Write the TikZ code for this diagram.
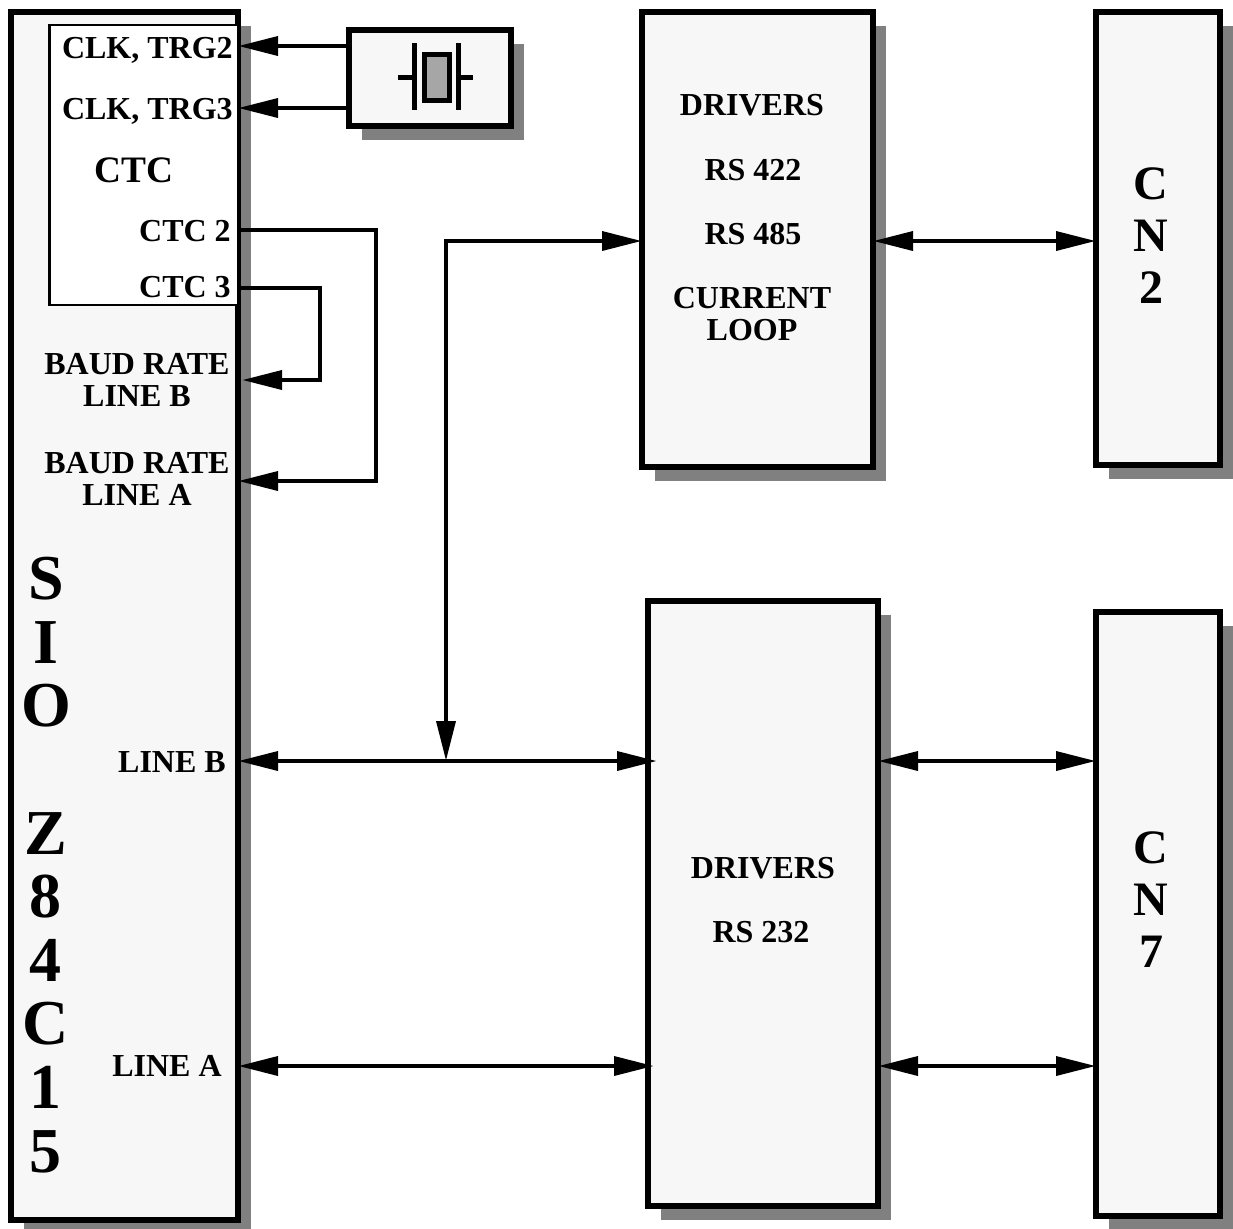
\documentclass[tikz,border=0pt]{standalone}
\usepackage{fontspec}
\setmainfont{Liberation Serif}
\usetikzlibrary{arrows.meta,shadows}

\definecolor{boxfill}{HTML}{F7F7F7}
\definecolor{shadowgray}{HTML}{808080}
\definecolor{quartzgray}{HTML}{A6A6A6}

\tikzset{
    blockbox/.style={draw, line width=4pt, fill=boxfill, inner sep=0pt, outer sep=0pt, drop shadow={shadow xshift=10pt, shadow yshift=-10.5pt, fill=shadowgray, opacity=1}},
    wire/.style={line width=3.4pt, line join=miter},
    tipped/.style={wire, -{Triangle[length=30pt,width=14pt]}},
    twotipped/.style={wire, {Triangle[length=30pt,width=14pt]}-{Triangle[length=30pt,width=14pt]}},
    lbl/.style={font=\fontsize{24}{24}\selectfont\bfseries, align=center, inner sep=0pt},
    ctclbl/.style={font=\fontsize{28}{28}\selectfont\bfseries, inner sep=0pt},
    cnlbl/.style={font=\fontsize{36}{39}\selectfont\bfseries, align=center, inner sep=0pt},
    siolbl/.style={font=\fontsize{48}{47.7}\selectfont\bfseries, align=center, inner sep=0pt}
}

\begin{document}
\begin{tikzpicture}[x=0.75pt, y=-0.75pt]
\useasboundingbox (0,0) rectangle (1233,1229);
\clip (0,0) rectangle (1233,1229);

% blocks
\node[blockbox, minimum width=170.25pt, minimum height=906pt] (sio) at (124.5,616) {};
\node[blockbox, minimum width=121.5pt, minimum height=72pt] (xtal) at (430,78) {};
\node[blockbox, minimum width=173.25pt, minimum height=341.25pt] (rsfour) at (757.5,239.5) {};
\node[blockbox, minimum width=93pt, minimum height=339.75pt] (cntwo) at (1158,238.5) {};
\node[blockbox, minimum width=172.5pt, minimum height=453.75pt] (rstwo) at (763,903.5) {};
\node[blockbox, minimum width=93pt, minimum height=453pt] (cnseven) at (1158,914) {};
\node[draw, line width=2.2pt, fill=white, inner sep=0pt, outer sep=0pt, minimum width=142pt, minimum height=210pt] (ctc) at (144,165) {};

% crystal symbol
\draw[line width=3.75pt, fill=quartzgray] (424,54) rectangle (449,100);
\draw[line width=3.75pt] (414,43) -- (414,110) (398,77) -- (414,77);
\draw[line width=3.75pt] (458,43) -- (458,110) (458,77) -- (473,77);

% texts
\node[lbl, anchor=east] (clktwo) at (233,50) {CLK, TRG2};
\node[lbl, anchor=east] (clkthree) at (233,111) {CLK, TRG3};
\node[ctclbl] (ctcname) at (134,170) {CTC};
\node[lbl, anchor=east] (ctctwo) at (231,231) {CTC 2};
\node[lbl, anchor=east] (ctcthree) at (231,287) {CTC 3};
\node[lbl] (baudb) at (137,380) {BAUD RATE\\LINE B};
\node[lbl] (bauda) at (137,479) {BAUD RATE\\LINE A};
\node[lbl] (lineb) at (172,762) {LINE B};
\node[lbl] (linea) at (167,1066) {LINE A};
\node[siolbl] (sioname) at (46,865) {S\\I\\O\\ \\Z\\8\\4\\C\\1\\5};
\node[lbl] (drvone) at (752,105) {DRIVERS};
\node[lbl] (rsfourtwo) at (753,170) {RS 422};
\node[lbl] (rsfourfive) at (753,234) {RS 485};
\node[lbl] (curloop) at (752,314) {CURRENT\\LOOP};
\node[lbl] (drvtwo) at (763,868) {DRIVERS};
\node[lbl] (rstwothree) at (761,932) {RS 232};
\node[cnlbl] (cntwoname) at (1151,236) {C\\N\\2};
\node[cnlbl] (cnsevenname) at (1151,900) {C\\N\\7};

% free ends
\coordinate (pctwo) at (376,230);
\coordinate (pcthree) at (320,288);
\coordinate (busup) at (446,241);
\coordinate (busdown) at (446,761);
\coordinate (lbrow) at (0,761);
\coordinate (larow) at (0,1066);
\coordinate (rsbtip) at (657,761);
\coordinate (rsatip) at (654,1066);

% connectors
\draw[tipped] (xtal.west |- 0,46) -- (sio.east |- 0,46);
\draw[tipped] (xtal.west |- 0,108) -- (sio.east |- 0,108);
\draw[tipped] (sio.east |- pctwo) -- (pctwo) |- (sio.east |- 0,481);
\draw[tipped] (sio.east |- pcthree) -- (pcthree) |- ([xshift=3pt]sio.east |- 0,380);
\draw[twotipped] (busdown) -- (busup) -- (rsfour.west |- busup);
\draw[twotipped] (sio.east |- lbrow) -- (rsbtip);
\draw[twotipped] (sio.east |- larow) -- (rsatip);
\draw[twotipped] (rsfour.east |- busup) -- (cntwo.west |- busup);
\draw[twotipped] (rstwo.east |- lbrow) -- (cnseven.west |- lbrow);
\draw[twotipped] (rstwo.east |- larow) -- (cnseven.west |- larow);
\end{tikzpicture}
\end{document}
